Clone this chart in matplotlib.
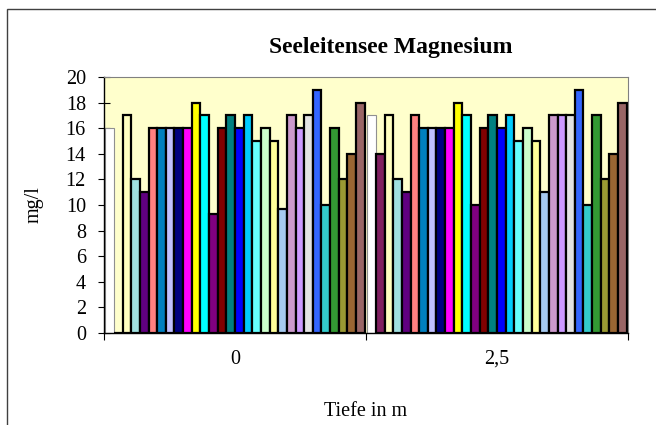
import matplotlib.pyplot as plt
from matplotlib.patches import Rectangle
import numpy as np

plt.rcParams['font.family'] = ['Liberation Serif', 'DejaVu Serif']

depths = ["0", "2,5"]

# Magnesium in mg/l per sample series, one list per depth
mg_0 = [16, 0, 17, 12, 11, 16, 16, 16, 16, 16, 18, 17, 9.3, 16, 17,
        16, 17, 15, 16, 15, 9.7, 17, 16, 17, 19, 10, 16, 12, 14, 18]
mg_25 = [17, 14, 17, 12, 11, 17, 16, 16, 16, 16, 18, 17, 10, 16, 17,
         16, 17, 15, 16, 15, 11, 17, 17, 17, 19, 10, 17, 12, 14, 18]

colors = ["#FFFFFF", "#802060", "#FFFFC0", "#A0E0E0", "#600080", "#FF8080",
          "#0080C0", "#C0C0FF", "#000080", "#FF00FF", "#FFFF00", "#00FFFF",
          "#800080", "#800000", "#008080", "#0000FF", "#00CCFF", "#66FFFF",
          "#CCFFCC", "#FFFF99", "#A6CAF0", "#CC99CC", "#CC99FF", "#E3E3E3",
          "#3366FF", "#33CCCC", "#339933", "#999933", "#996633", "#996666"]

fig = plt.figure(figsize=(6.56, 4.25), dpi=100)
ax = fig.add_axes([104 / 656, 1 - 333 / 425, 524 / 656, 256 / 425])
ax.set_facecolor("#FFFFCC")

n = len(colors)
x = np.arange(len(depths))
w = 0.99 / n
for i in range(n):
    vals = [mg_0[i], mg_25[i]]
    if colors[i] == "#FFFFFF":
        ec, lw = "#909090", 0.8
    else:
        ec, lw = "black", 1.6
    ax.bar(x + (i - (n - 1) / 2) * w, vals, w, color=colors[i],
           edgecolor=ec, linewidth=lw, zorder=2)

ax.set_xlim(-0.5, 1.5)
ax.set_ylim(0, 20)
ax.set_yticks(range(0, 21, 2))
ax.tick_params(axis='y', direction='inout', length=9, width=0.8,
               labelsize=14.5, pad=8.5)

ax.set_xticks([-0.5, 0.5, 1.5])
ax.set_xticklabels(["", "", ""])
ax.tick_params(axis='x', which='major', direction='out', length=5, width=0.8)
ax.set_xticks(x, minor=True)
ax.set_xticklabels(depths, minor=True)
ax.tick_params(axis='x', which='minor', length=0, labelsize=14.5, pad=12)

for s in ["top", "right"]:
    ax.spines[s].set_color("#808080")
    ax.spines[s].set_linewidth(0.8)
for s in ["left", "bottom"]:
    ax.spines[s].set_color("black")
    ax.spines[s].set_linewidth(1)

ax.set_ylabel("mg/l", fontsize=14.5, labelpad=16)
ax.set_xlabel("Tiefe in m", fontsize=14.5, labelpad=24)

fig.text(391 / 656, 1 - 48 / 425, "Seeleitensee Magnesium", fontsize=17,
         fontweight='bold', ha='center', va='center')

fig.patches.append(Rectangle((7 / 656, -0.1), 2, 1 - 9 / 425 + 0.1,
                             transform=fig.transFigure, fill=False,
                             edgecolor="#404040", linewidth=1))

fig.savefig("out.png", dpi=100)
